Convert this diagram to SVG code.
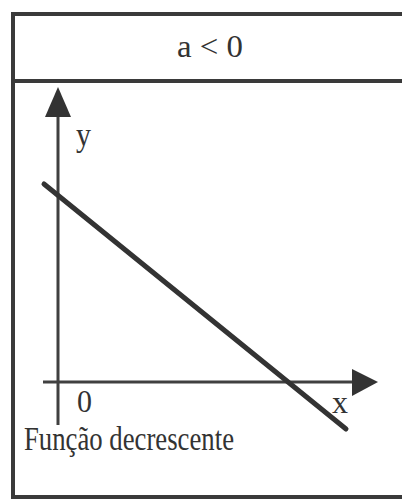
<svg xmlns="http://www.w3.org/2000/svg" width="402" height="499" viewBox="0 0 402 499">
<style>
.frame{stroke:#3a3a3a;stroke-width:4;fill:none}
.axis{stroke:#404040;stroke-width:3;fill:none}
.graph{stroke:#333;stroke-width:5;fill:none;stroke-linecap:round}
.head{fill:#333}
text{font-family:"Liberation Serif","Times New Roman",serif;fill:#333}
</style>
<rect width="402" height="499" fill="#fff"/>
<g id="frame">
<path class="frame" d="M402,14 H13 V497 H402"/>
<line class="frame" x1="13" y1="81" x2="402" y2="81"/>
</g>
<g id="header"><text x="210" y="57" font-size="31" text-anchor="middle" textLength="66" lengthAdjust="spacingAndGlyphs">a &lt; 0</text></g>
<g id="connectors">
<line class="axis" x1="58" y1="112" x2="58" y2="425"/>
<polygon class="head" points="58,87 45,117 71,117"/>
<line class="axis" x1="43" y1="382" x2="355" y2="382"/>
<polygon class="head" points="378,382 352,369 352,396"/>
<line class="graph" x1="44" y1="184" x2="346" y2="429"/>
</g>
<g id="labels">
<text x="76" y="146" font-size="33" textLength="15" lengthAdjust="spacingAndGlyphs">y</text>
<text x="77" y="412" font-size="32" textLength="15" lengthAdjust="spacingAndGlyphs">0</text>
<text x="332" y="413" font-size="32" textLength="16" lengthAdjust="spacingAndGlyphs">x</text>
<text x="24" y="450" font-size="33" textLength="210" lengthAdjust="spacingAndGlyphs">Função decrescente</text>
</g>
</svg>
